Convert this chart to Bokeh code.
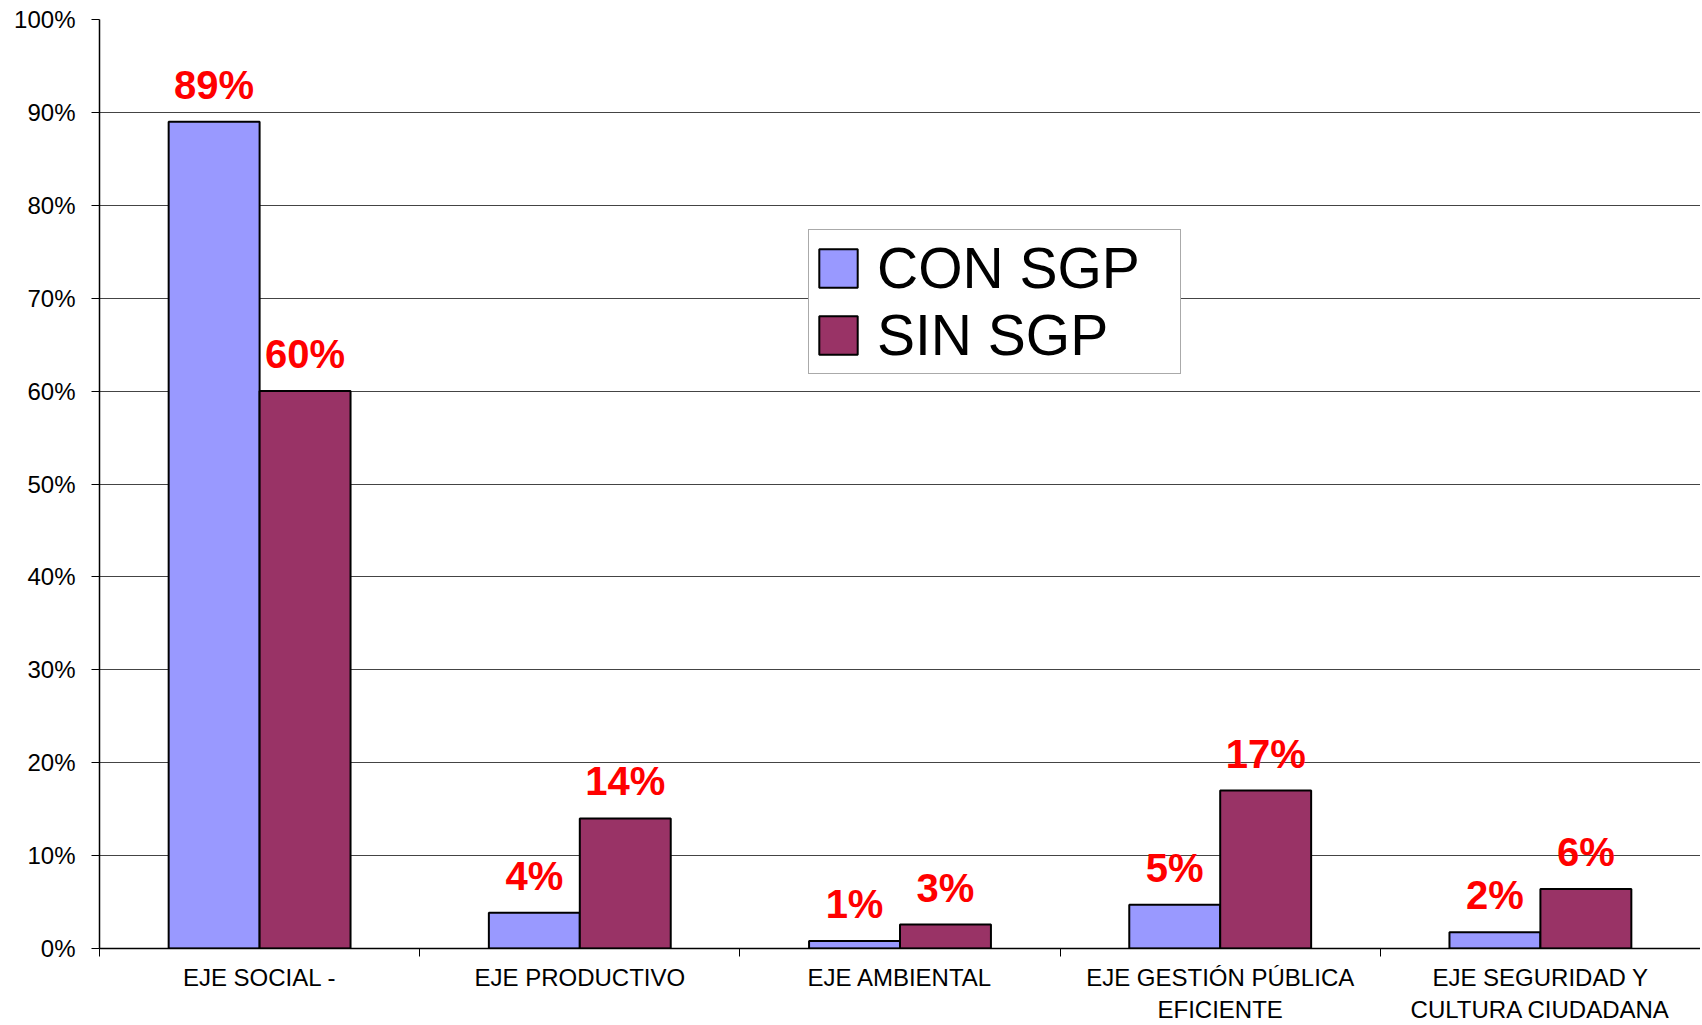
from bokeh.plotting import figure
from bokeh.models import (FixedTicker, CustomJSTickFormatter, PrintfTickFormatter,
                          Legend, LegendItem, Range1d)
from bokeh.core.properties import value
from bokeh.embed import file_html
from bokeh.resources import INLINE
import numpy as np

categories = ["EJE SOCIAL -", "EJE PRODUCTIVO", "EJE AMBIENTAL",
              "EJE GESTIÓN PÚBLICA\nEFICIENTE", "EJE SEGURIDAD Y\nCULTURA CIUDADANA"]
con_sgp = [89.0, 3.85, 0.8, 4.7, 1.75]
sin_sgp = [60.0, 14.0, 2.57, 17.0, 6.4]
series_names = ["CON SGP", "SIN SGP"]
y_ticks = [0, 10, 20, 30, 40, 50, 60, 70, 80, 90, 100]

FONT = "Liberation Sans"
C_CON = "#9999FF"
C_SIN = "#993366"
BW = 0.284

p = figure(width=1700, height=1025, output_backend="svg", toolbar_location=None,
           x_range=Range1d(0, len(categories)), y_range=Range1d(0, 100),
           min_border_left=99, min_border_top=19, min_border_bottom=60, min_border_right=0)
p.outline_line_color = None
p.background_fill_color = "white"
p.border_fill_color = "white"

centers = np.arange(len(categories)) + 0.5

r_con = p.vbar(x=centers - BW / 2, top=con_sgp, width=BW, fill_color=C_CON,
               line_color="black", line_width=2)
r_sin = p.vbar(x=centers + BW / 2, top=sin_sgp, width=BW, fill_color=C_SIN,
               line_color="black", line_width=2)

for xs, vals in ((centers - BW / 2, con_sgp), (centers + BW / 2, sin_sgp)):
    p.text(x=list(xs), y=vals, text=[f"{round(v):.0f}%" for v in vals],
           text_font=value(FONT), text_font_style="bold", text_color="#FF0000",
           text_font_size="40px", text_align="center", text_baseline="alphabetic",
           y_offset=-37)

# axes
p.xgrid.visible = False
p.ygrid.grid_line_color = "#444444"
p.ygrid.grid_line_width = 1
p.yaxis.ticker = FixedTicker(ticks=y_ticks)
p.yaxis.formatter = PrintfTickFormatter(format="%d%%")
p.yaxis.major_label_text_font = FONT
p.yaxis.major_label_text_font_size = "24px"
p.yaxis.major_label_text_color = "black"
p.yaxis.major_tick_out = 8
p.yaxis.major_tick_in = 0
p.yaxis.minor_tick_line_color = None
p.yaxis.axis_line_color = "black"
p.yaxis.axis_line_width = 1.5
p.yaxis.major_tick_line_color = "black"
p.yaxis.major_label_standoff = 16

p.xaxis.ticker = FixedTicker(ticks=list(centers), minor_ticks=list(range(len(categories) + 1)))
p.xaxis.formatter = CustomJSTickFormatter(args=dict(labels=categories),
                                          code="return labels[Math.floor(tick)];")
p.xaxis.major_tick_line_color = None
p.xaxis.major_tick_out = 0
p.xaxis.minor_tick_line_color = "black"
p.xaxis.minor_tick_out = 8
p.xaxis.minor_tick_in = 0
p.xaxis.axis_line_color = "black"
p.xaxis.axis_line_width = 1.5
p.xaxis.major_label_text_font = FONT
p.xaxis.major_label_text_font_size = "24px"
p.xaxis.major_label_text_color = "black"
p.xaxis.major_label_text_line_height = 1.2
p.xaxis.major_label_standoff = 7

legend = Legend(items=[LegendItem(label=series_names[0], renderers=[r_con]),
                       LegendItem(label=series_names[1], renderers=[r_sin])],
                location=(709, 574))
legend.label_text_font = FONT
legend.label_text_font_size = "57px"
legend.label_text_color = "black"
legend.glyph_width = 48
legend.glyph_height = 48
legend.label_standoff = 15
legend.label_height = 56
legend.label_width = 298
legend.spacing = 1
legend.padding = 5
legend.margin = 0
legend.border_line_color = "#555555"
legend.border_line_width = 1
legend.background_fill_alpha = 1
p.add_layout(legend, "center")

open("out.html", "w").write(file_html(p, INLINE))
